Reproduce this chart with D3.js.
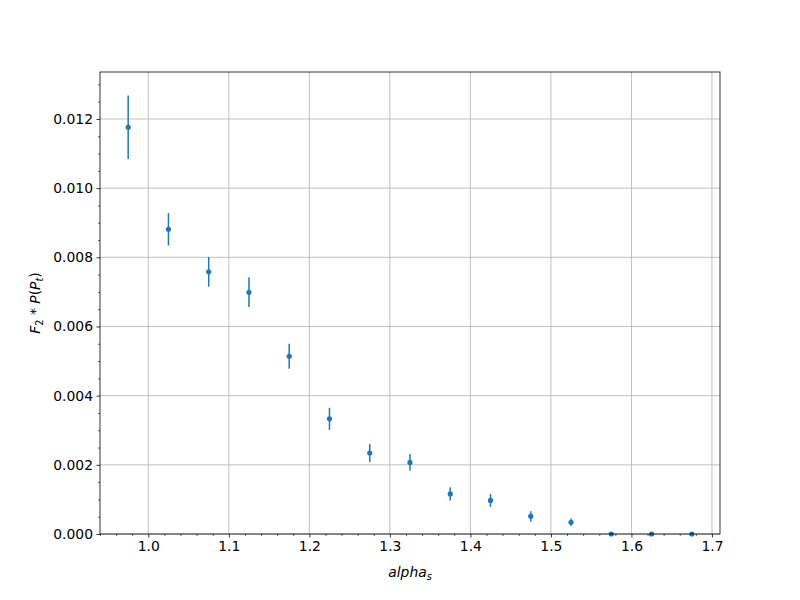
<!DOCTYPE html>
<html><head><meta charset="utf-8">
<script src="https://cdn.jsdelivr.net/npm/d3@7"></script>
<style>body{margin:0;background:#fff}</style>
</head><body>
<svg id="c" width="800" height="600"></svg>
<script>
const xs = [0.975,1.025,1.075,1.125,1.175,1.225,1.275,1.325,1.375,1.425,1.475,1.525,1.575,1.625,1.675];
const ys = [0.01176,0.00881,0.00758,0.00699,0.00514,0.00333,0.00234,0.00207,0.00116,0.00097,0.00051,0.00034,0.0,0.0,0.0];
const errs = [0.00092,0.00047,0.00043,0.00043,0.00036,0.00032,0.00026,0.00024,0.00019,0.00019,0.00015,0.00011,0.00002,0.00002,0.00002];
const xTicks = [1.0,1.1,1.2,1.3,1.4,1.5,1.6,1.7];
const yTicks = [0,0.002,0.004,0.006,0.008,0.010,0.012];

const svg = d3.select("#c");
const L=100,R=720,T=72,B=534;
const x = d3.scaleLinear().domain([0.94,1.71]).range([L,R]);
const y = d3.scaleLinear().domain([0,0.013358]).range([B,T]);
const font = "DejaVu Sans, sans-serif";

// grid
const g = svg.append("g");
g.selectAll("line.gx").data(xTicks).join("line")
 .attr("x1",d=>x(d)).attr("x2",d=>x(d)).attr("y1",T).attr("y2",B)
 .attr("stroke","#b0b0b0").attr("stroke-width",0.8);
g.selectAll("line.gy").data(yTicks).join("line")
 .attr("y1",d=>y(d)).attr("y2",d=>y(d)).attr("x1",L).attr("x2",R)
 .attr("stroke","#b0b0b0").attr("stroke-width",0.8);

// error bars
const c="#1f77b4";
const idx = d3.range(xs.length);
svg.append("g").selectAll("line").data(idx).join("line")
 .attr("x1",i=>x(xs[i])).attr("x2",i=>x(xs[i]))
 .attr("y1",i=>y(ys[i]-errs[i])).attr("y2",i=>y(ys[i]+errs[i]))
 .attr("stroke",c).attr("stroke-width",1.5);
svg.append("g").selectAll("circle").data(idx).join("circle")
 .attr("cx",i=>x(xs[i])).attr("cy",i=>y(ys[i])).attr("r",2.6).attr("fill",c);

// axes
const xa = d3.axisBottom(x).tickValues(xTicks).tickFormat(d3.format(".1f")).tickSize(3.5).tickPadding(3.5);
const ya = d3.axisLeft(y).tickValues(yTicks).tickFormat(d3.format(".3f")).tickSize(3.5).tickPadding(3.5);
const xmin = d3.range(0.94,1.711,0.02).map(v=>+v.toFixed(3)).filter(v=>xTicks.every(t=>Math.abs(t-v)>1e-6));
const ymin = d3.range(0,0.0134,0.0005).map(v=>+v.toFixed(5)).filter(v=>yTicks.every(t=>Math.abs(t-v)>1e-7));
svg.append("g").attr("transform",`translate(0,${B})`).call(d3.axisBottom(x).tickValues(xmin).tickFormat("").tickSize(2))
 .call(s=>s.select(".domain").remove()).selectAll("line").attr("stroke-width",0.6);
svg.append("g").attr("transform",`translate(${L},0)`).call(d3.axisLeft(y).tickValues(ymin).tickFormat("").tickSize(2))
 .call(s=>s.select(".domain").remove()).selectAll("line").attr("stroke-width",0.6);
const gx = svg.append("g").attr("transform",`translate(0,${B})`).call(xa);
const gy = svg.append("g").attr("transform",`translate(${L},0)`).call(ya);
[gx,gy].forEach(a=>{a.select(".domain").remove();a.selectAll("line").attr("stroke-width",0.8);
 a.selectAll("text").attr("font-family",font).attr("font-size",13.9).attr("fill","#000");});
svg.append("rect").attr("x",L).attr("y",T).attr("width",R-L).attr("height",B-T)
 .attr("fill","none").attr("stroke","#000").attr("stroke-width",0.8);

// labels
const xl = svg.append("text").attr("x",(L+R)/2).attr("y",577).attr("text-anchor","middle")
 .attr("font-family",font).attr("font-size",13.9);
xl.append("tspan").attr("font-style","italic").text("alpha");
xl.append("tspan").attr("font-style","italic").attr("font-size",9.7).attr("dy",2.5).text("s");

const yl = svg.append("text").attr("transform",`translate(40,${(T+B)/2}) rotate(-90)`).attr("text-anchor","middle")
 .attr("font-family",font).attr("font-size",13.9);
yl.append("tspan").attr("font-style","italic").text("F");
yl.append("tspan").attr("font-size",9.7).attr("dy",2.5).text("2");
yl.append("tspan").attr("dy",-2.5).text(" * ");
yl.append("tspan").attr("font-style","italic").text("P");
yl.append("tspan").text("(");
yl.append("tspan").attr("font-style","italic").text("P");
yl.append("tspan").attr("font-style","italic").attr("font-size",9.7).attr("dy",2.5).text("t");
yl.append("tspan").attr("dy",-2.5).text(")");
</script>
</body></html>
